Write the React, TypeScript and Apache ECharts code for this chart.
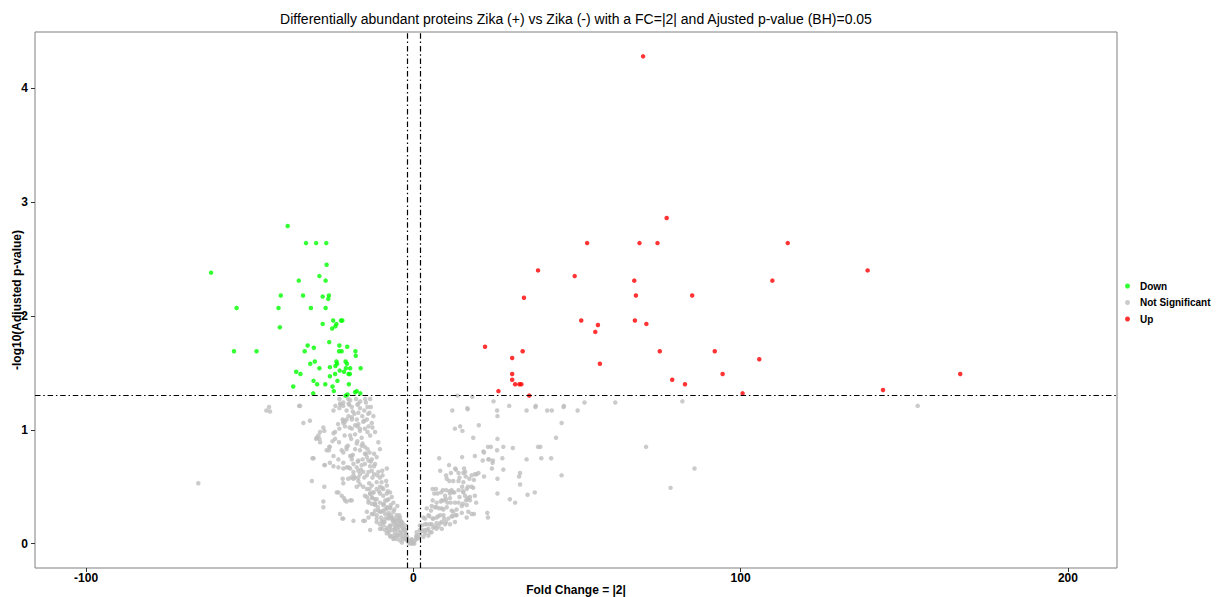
import React, { useEffect, useRef } from "react";
import * as echarts from "echarts";

const titleText =
  "Differentially abundant proteins Zika (+) vs Zika (-) with a FC=|2| and Ajusted p-value (BH)=0.05";
const xName = "Fold Change = |2|";
const yName = "-log10(Adjusted p-value)";
const xTicks = [-100, 0, 100, 200];
const yTicks = [0, 1, 2, 3, 4];
const xRange = [-115.6, 215];
const yRange = [-0.214, 4.494];
const fcCutoffs = [-2, 2];
const pCutoff = 1.30103;
const seriesNames = ["Down", "Not Significant", "Up"];

// [fold change, -log10(adjusted p)]
const upPoints = [
  [70.2, 4.28], [77.4, 2.86], [53.1, 2.64], [69.1, 2.64], [74.6, 2.64], [38.1, 2.4], [49.3, 2.35],
  [67.5, 2.31], [33.8, 2.16], [68.0, 2.18], [85.2, 2.18], [51.3, 1.96], [56.4, 1.92], [55.6, 1.86],
  [67.7, 1.96], [71.2, 1.93], [21.9, 1.73], [33.4, 1.69], [75.3, 1.69], [92.1, 1.69], [30.2, 1.63],
  [105.7, 1.62], [57.0, 1.58], [30.2, 1.49], [94.5, 1.49], [30.2, 1.44], [79.1, 1.44], [31.1, 1.4],
  [32.4, 1.4], [33.0, 1.4], [83.0, 1.4], [26.0, 1.34], [35.4, 1.3], [100.6, 1.32], [114.4, 2.64],
  [109.7, 2.31], [138.8, 2.4], [143.5, 1.35], [167.1, 1.49],
];

const downPoints = [
  [-38.4, 2.79], [-32.8, 2.64], [-29.7, 2.64], [-26.6, 2.64], [-61.8, 2.38], [-26.5, 2.45],
  [-35.0, 2.31], [-28.7, 2.35], [-26.8, 2.31], [-40.5, 2.18], [-33.7, 2.18], [-27.7, 2.17],
  [-25.8, 2.18], [-26.0, 2.15], [-54.0, 2.07], [-41.2, 2.07], [-31.3, 2.07], [-26.8, 2.07],
  [-40.8, 1.9], [-24.5, 1.96], [-22.1, 1.96], [-21.7, 1.96], [-23.5, 1.93], [-23.8, 1.91],
  [-27.7, 1.93], [-24.8, 1.89], [-54.8, 1.69], [-47.9, 1.69], [-25.7, 1.77], [-32.3, 1.74],
  [-30.4, 1.72], [-33.2, 1.69], [-22.6, 1.74], [-20.2, 1.73], [-22.7, 1.69], [-21.9, 1.69],
  [-17.7, 1.69], [-17.6, 1.65], [-23.5, 1.6], [-23.3, 1.58], [-20.7, 1.6], [-20.3, 1.58],
  [-30.1, 1.6], [-31.5, 1.58], [-25.5, 1.55], [-23.8, 1.56], [-28.7, 1.54], [-22.5, 1.52],
  [-21.2, 1.51], [-19.8, 1.49], [-19.4, 1.49], [-20.6, 1.54], [-19.3, 1.54], [-16.1, 1.54],
  [-35.8, 1.51], [-34.5, 1.49], [-23.9, 1.49], [-25.5, 1.47], [-30.5, 1.43], [-29.4, 1.4],
  [-23.2, 1.43], [-26.9, 1.4], [-36.7, 1.38], [-24.7, 1.38], [-24.3, 1.34], [-19.7, 1.4],
  [-17.8, 1.33], [-17.3, 1.34], [-16.2, 1.32], [-30.6, 1.32], [-20.7, 1.3], [-20.1, 1.31],
];

const greyLeftOutliers = [
  [-65.7, 0.53], [-44.1, 1.2], [-44.9, 1.17], [-43.8, 1.16], [-34.9, 1.21], [-34.6, 1.21],
];

const greyLeftBand1 = [
  [-24.4, 1.17], [-22.6, 1.27], [-22.2, 1.22], [-22.6, 1.19], [-23.8, 1.21], [-21.4, 1.24],
  [-19.9, 1.27], [-19.6, 1.22], [-18.5, 1.16], [-20.4, 1.17], [-17.5, 1.27], [-17.1, 1.22],
  [-16.2, 1.25], [-14.7, 1.27], [-14.5, 1.24], [-15.0, 1.17], [-14.0, 1.2], [-13.0, 1.2],
  [-13.4, 1.15], [-13.2, 1.27], [-16.3, 1.19], [-22.4, 1.23], [-21.4, 1.21], [-19.8, 1.23],
  [-19.3, 1.26], [-18.8, 1.2], [-16.8, 1.23], [-19.8, 1.12], [-16.8, 1.15], [-18.0, 1.14],
  [-13.8, 1.14],
];

const greyLeftBand2 = [
  [-33.6, 1.06], [-31.6, 1.08], [-29.0, 0.95], [-28.5, 0.98], [-27.5, 1.02], [-24.7, 0.9],
  [-23.9, 0.98], [-22.6, 1.01], [-21.6, 1.09], [-21.4, 1.06], [-20.9, 1.03], [-20.4, 1.09],
  [-18.8, 1.11], [-17.3, 1.09], [-17.1, 1.03], [-15.6, 1.12], [-14.2, 1.09], [-13.7, 1.03],
  [-12.7, 1.06], [-14.8, 1.01], [-16.3, 0.99], [-18.8, 1.01], [-17.8, 0.96], [-19.3, 0.95],
  [-12.2, 1.12], [-14.0, 0.98], [-13.2, 0.95], [-11.7, 0.98], [-15.8, 0.93], [-17.1, 0.9],
  [-29.5, 0.93], [-27.2, 0.99], [-24.4, 0.97], [-23.9, 0.92], [-21.4, 1.08], [-20.9, 1.07],
  [-18.8, 1.09], [-17.8, 1.04], [-16.3, 1.01], [-15.3, 1.07], [-16.8, 1.05], [-19.5, 1.02],
  [-21.0, 0.95], [-23.0, 1.05], [-15.0, 1.08], [-12.5, 1.02],
];

const greyLeftBand3 = [
  [-29.7, 0.92], [-28.7, 0.92], [-28.5, 0.89], [-25.5, 0.85], [-25.8, 0.82], [-24.4, 0.77],
  [-22.7, 0.89], [-21.9, 0.82], [-21.4, 0.8], [-22.9, 0.74], [-20.4, 0.83], [-19.3, 0.77],
  [-18.8, 0.74], [-17.8, 0.83], [-16.3, 0.82], [-15.8, 0.86], [-14.8, 0.85], [-14.0, 0.83],
  [-13.4, 0.8], [-14.2, 0.76], [-15.5, 0.74], [-16.8, 0.73], [-18.3, 0.7], [-21.4, 0.71],
  [-22.9, 0.67], [-20.4, 0.67], [-19.3, 0.66], [-17.3, 0.67], [-15.8, 0.69], [-14.8, 0.7],
  [-13.7, 0.73], [-12.7, 0.74], [-12.0, 0.79], [-11.2, 0.76], [-11.7, 0.7], [-13.2, 0.68],
  [-10.7, 0.89], [-10.2, 0.83], [-30.8, 0.75], [-27.2, 0.69], [-25.5, 0.71], [-24.4, 0.68],
  [-8.1, 0.66], [-30.5, 0.75], [-26.5, 0.82], [-25.7, 0.85], [-27.0, 0.69], [-20.4, 0.85],
  [-18.8, 0.77], [-17.3, 0.88], [-14.8, 0.79], [-21.4, 0.66], [-19.8, 0.67], [-18.3, 0.63],
  [-16.8, 0.64], [-16.0, 0.65], [-17.0, 0.72], [-18.5, 0.78], [-20.0, 0.86], [-19.0, 0.92],
  [-15.5, 0.88], [-14.5, 0.79], [-13.0, 0.72], [-12.0, 0.68], [-9.5, 0.64],
];

const greyLeftBand4 = [
  [-31.0, 0.55], [-27.2, 0.5], [-21.6, 0.57], [-21.4, 0.53], [-19.9, 0.57], [-19.0, 0.58],
  [-17.8, 0.58], [-16.8, 0.55], [-18.3, 0.6], [-16.3, 0.61], [-15.3, 0.63], [-14.2, 0.6],
  [-13.7, 0.63], [-12.7, 0.64], [-12.0, 0.61], [-10.7, 0.63], [-10.2, 0.58], [-9.4, 0.6],
  [-8.3, 0.55], [-9.7, 0.54], [-11.2, 0.54], [-12.7, 0.51], [-13.4, 0.48], [-12.2, 0.45],
  [-13.2, 0.44], [-11.2, 0.48], [-10.2, 0.5], [-9.2, 0.48], [-8.1, 0.51], [-17.3, 0.5],
  [-22.9, 0.45], [-21.9, 0.42], [-21.2, 0.4], [-19.3, 0.38], [-27.5, 0.37], [-12.7, 0.41],
  [-11.7, 0.39], [-10.2, 0.44], [-9.2, 0.42], [-8.1, 0.44], [-7.1, 0.45], [-14.2, 0.41],
  [-13.7, 0.36], [-11.7, 0.35], [-10.2, 0.36], [-8.6, 0.38], [-7.6, 0.39], [-6.6, 0.41],
  [-6.1, 0.36], [-23.4, 0.45], [-20.9, 0.38], [-20.4, 0.37], [-18.8, 0.38], [-18.3, 0.57],
  [-16.8, 0.58], [-16.3, 0.52], [-15.3, 0.5], [-14.2, 0.48], [-13.2, 0.44], [-12.2, 0.45],
  [-11.2, 0.39], [-14.8, 0.42], [-13.7, 0.38], [-12.7, 0.35], [-11.7, 0.34], [-13.5, 0.53],
  [-12.5, 0.58], [-11.0, 0.6], [-15.0, 0.58], [-10.5, 0.46], [-9.5, 0.49], [-7.8, 0.46],
  [-12.5, 0.4], [-11.8, 0.35],
];

const greyLeftBand5 = [
  [-27.5, 0.32], [-22.4, 0.26], [-21.4, 0.22], [-18.3, 0.2], [-14.8, 0.2], [-13.7, 0.23],
  [-12.7, 0.26], [-11.7, 0.29], [-11.2, 0.25], [-10.2, 0.28], [-9.2, 0.29], [-8.1, 0.31],
  [-7.1, 0.32], [-6.1, 0.28], [-5.1, 0.25], [-4.6, 0.22], [-5.6, 0.2], [-6.6, 0.22],
  [-7.6, 0.23], [-8.6, 0.22], [-9.7, 0.2], [-10.2, 0.17], [-11.2, 0.19], [-9.2, 0.16],
  [-8.1, 0.14], [-7.1, 0.16], [-6.1, 0.17], [-5.1, 0.16], [-4.1, 0.19], [-3.6, 0.15],
  [-4.6, 0.12], [-5.6, 0.1], [-6.6, 0.12], [-7.6, 0.1], [-6.1, 0.07], [-4.6, 0.07],
  [-3.6, 0.09], [-3.0, 0.12], [-2.5, 0.16], [-8.1, 0.09], [-9.7, 0.13], [-5.1, 0.04],
  [-4.1, 0.03], [-3.0, 0.04], [-2.2, 0.06], [-1.5, 0.01], [-1.0, 0.0], [-0.5, 0.01],
  [-2.0, 0.03], [-3.5, 0.01], [-21.7, 0.22], [-13.2, 0.12], [-15.3, 0.2], [-14.2, 0.28],
  [-12.2, 0.26], [-11.2, 0.22], [-9.2, 0.19], [-7.6, 0.22], [-6.1, 0.2], [-10.2, 0.13],
  [-8.6, 0.12], [-7.1, 0.15], [-5.6, 0.13], [-4.6, 0.16], [-3.6, 0.17], [-2.5, 0.12],
  [-5.1, 0.07], [-3.6, 0.06], [-2.5, 0.04], [-1.5, 0.03], [-7.1, 0.07], [-6.1, 0.04],
  [-9.2, 0.34], [-8.1, 0.32], [-7.1, 0.31], [-4.1, 0.23], [-10.7, 0.29], [-9.7, 0.28],
  [-8.6, 0.26], [-7.6, 0.25], [-6.6, 0.23], [-5.6, 0.22], [-4.6, 0.2], [-3.6, 0.19],
  [-8.5, 0.3], [-7.5, 0.27], [-6.8, 0.25], [-5.8, 0.3], [-4.9, 0.33], [-6.3, 0.2],
  [-5.3, 0.18], [-4.3, 0.25], [-3.8, 0.2], [-3.3, 0.18], [-2.8, 0.13], [-3.9, 0.1],
  [-4.8, 0.08], [-5.9, 0.05], [-7.0, 0.06], [-2.4, 0.09], [-1.9, 0.06], [-3.1, 0.06],
  [-4.4, 0.15], [-5.6, 0.14], [-7.4, 0.12], [-8.8, 0.19], [-9.9, 0.23], [-10.8, 0.32],
  [-9.0, 0.35], [-8.0, 0.38], [-6.9, 0.34], [-3.2, 0.13], [-2.2, 0.09],
];

const greyCenter = [
  [0.0, 0.01], [0.5, 0.03], [1.0, 0.04], [-0.5, 0.03], [1.5, 0.05], [-0.5, 0.04], [1.0, 0.06],
  [0.3, 0.0], [-0.3, 0.0],
];

const greyRightLow = [
  [6.6, 0.32], [7.9, 0.31], [9.2, 0.3], [10.2, 0.32], [4.1, 0.31], [5.4, 0.29], [12.2, 0.28],
  [13.0, 0.25], [11.7, 0.24], [14.8, 0.27], [16.8, 0.28], [18.5, 0.26], [22.6, 0.27], [22.8, 0.23],
  [3.6, 0.22], [4.9, 0.24], [5.9, 0.22], [7.1, 0.23], [8.2, 0.25], [9.4, 0.22], [10.7, 0.22],
  [2.6, 0.16], [4.1, 0.17], [5.6, 0.17], [7.1, 0.18], [8.7, 0.19], [10.0, 0.19], [11.2, 0.17],
  [2.0, 0.12], [3.3, 0.12], [4.6, 0.13], [6.1, 0.14], [7.7, 0.15], [1.0, 0.07], [2.0, 0.08],
  [3.6, 0.09], [5.1, 0.1], [5.9, 0.48], [6.4, 0.44], [7.4, 0.44], [8.5, 0.45], [9.0, 0.47],
  [9.7, 0.42], [11.2, 0.44], [12.2, 0.45], [13.8, 0.47], [15.3, 0.45], [15.8, 0.42], [16.8, 0.4],
  [17.3, 0.38], [19.2, 0.36], [25.7, 0.44], [29.5, 0.39], [31.1, 0.36], [34.9, 0.43], [37.1, 0.45],
  [5.9, 0.38], [7.1, 0.36], [8.4, 0.37], [9.4, 0.38], [10.4, 0.36], [11.4, 0.36], [12.7, 0.36],
  [13.8, 0.36], [15.1, 0.35], [16.1, 0.38], [6.9, 0.48], [10.0, 0.47], [11.0, 0.46], [11.7, 0.47],
  [12.5, 0.45], [15.1, 0.46], [16.3, 0.48], [17.8, 0.5], [8.7, 0.38], [10.0, 0.39], [11.2, 0.4],
  [14.1, 0.41], [16.5, 0.39], [17.3, 0.41], [18.8, 0.42], [5.6, 0.33], [7.1, 0.32], [8.7, 0.31],
  [11.7, 0.29], [13.2, 0.3], [14.8, 0.33], [16.3, 0.34], [17.8, 0.26], [3.1, 0.23], [4.6, 0.25],
  [6.1, 0.22], [7.6, 0.24], [9.2, 0.25], [12.0, 0.24], [13.2, 0.25], [16.3, 0.23], [2.0, 0.16],
  [3.6, 0.17], [5.1, 0.17], [6.6, 0.15], [8.2, 0.18], [9.7, 0.17], [12.7, 0.19], [1.0, 0.1],
  [2.6, 0.11], [4.1, 0.12], [5.6, 0.1], [7.1, 0.13], [8.7, 0.13], [1.0, 0.06], [3.1, 0.06],
  [4.6, 0.07],
];

const greyRightMid = [
  [13.5, 1.3], [18.0, 1.29], [24.5, 1.25], [29.3, 1.21], [11.9, 1.17], [16.6, 1.18], [25.6, 1.17],
  [25.7, 1.12], [34.6, 1.17], [37.3, 1.2], [40.9, 1.17], [42.3, 1.17], [45.9, 1.2], [50.2, 1.17],
  [45.3, 1.06], [20.0, 1.04], [12.7, 1.01], [14.3, 1.03], [15.0, 0.99], [18.3, 0.93], [25.7, 0.92],
  [43.6, 0.93], [22.8, 0.85], [23.7, 0.85], [21.4, 0.81], [25.6, 0.82], [27.5, 0.85], [30.4, 0.84],
  [38.1, 0.85], [38.8, 0.85], [7.9, 0.75], [14.9, 0.76], [18.8, 0.77], [21.2, 0.73], [22.9, 0.74],
  [24.3, 0.73], [27.2, 0.75], [34.6, 0.74], [39.1, 0.75], [42.1, 0.75], [8.2, 0.64], [10.9, 0.69],
  [12.8, 0.66], [15.5, 0.66], [24.0, 0.66], [27.5, 0.65], [10.0, 0.6], [11.5, 0.62], [13.8, 0.62],
  [14.1, 0.58], [15.3, 0.62], [16.0, 0.59], [17.8, 0.6], [19.3, 0.61], [21.6, 0.59], [25.7, 0.57],
  [32.3, 0.59], [32.6, 0.62], [45.3, 0.6], [11.0, 0.55], [12.2, 0.55], [15.3, 0.54], [14.9, 0.5],
  [16.7, 0.5], [18.3, 0.49], [32.6, 0.52], [21.6, 0.8], [23.1, 0.74], [24.2, 0.71], [13.0, 0.65],
  [15.8, 0.63], [13.8, 0.55], [10.2, 0.57], [17.1, 0.57], [18.5, 0.56], [18.8, 0.61], [19.9, 0.62],
];

const greyRightFar = [
  [46.0, 1.21], [52.3, 1.24], [61.7, 1.24], [82.2, 1.25], [154.1, 1.21], [71.1, 0.85], [85.9, 0.66],
  [78.6, 0.49], [37.4, 1.21], [16.5, 1.19],
];

const greyPoints = [
  ...greyLeftOutliers,
  ...greyLeftBand1,
  ...greyLeftBand2,
  ...greyLeftBand3,
  ...greyLeftBand4,
  ...greyLeftBand5,
  ...greyCenter,
  ...greyRightLow,
  ...greyRightMid,
  ...greyRightFar,
];

const FONT = "'Liberation Sans', Arial, Helvetica, sans-serif";

export default function App() {
  const ref = useRef<HTMLDivElement>(null);

  useEffect(() => {
    if (!ref.current) return;
    const chart = echarts.init(ref.current, null, { renderer: "svg" });
    const dotDash = {
      color: "#000",
      width: 1.2,
      type: [5.5, 2.8, 1.5, 2.8],
    };
    chart.setOption({
      animation: false,
      backgroundColor: "#ffffff",
      textStyle: { fontFamily: FONT },
      title: {
        text: titleText,
        left: 576,
        top: 12,
        padding: 0,
        textAlign: "center",
        textStyle: { fontSize: 14, fontWeight: "normal", color: "#000", fontFamily: FONT },
      },
      legend: {
        data: seriesNames,
        orient: "vertical",
        left: 1125,
        top: 281,
        icon: "circle",
        itemWidth: 5,
        itemHeight: 5,
        itemGap: 6.5,
        padding: 0,
        textStyle: { fontSize: 10, fontWeight: "bold", color: "#000", fontFamily: FONT, padding: [0, 0, 0, 5] },
      },
      grid: {
        left: 35,
        top: 32,
        width: 1082,
        height: 536,
        containLabel: false,
        outerBoundsMode: "none",
        show: true,
        borderColor: "#808080",
        borderWidth: 1,
        backgroundColor: "#fff",
      },
      xAxis: {
        type: "value",
        position: "bottom",
        min: xRange[0],
        max: xRange[1],
        name: xName,
        nameLocation: "middle",
        nameGap: 16,
        nameMoveOverlap: false,
        nameTextStyle: { fontSize: 12, fontWeight: "bold", color: "#000", fontFamily: FONT },
        axisLine: { show: false, onZero: false },
        splitLine: { show: false },
        axisTick: { show: true, customValues: xTicks, length: 4, lineStyle: { color: "#333" } },
        axisLabel: {
          customValues: xTicks,
          fontSize: 12,
          fontWeight: "bold",
          color: "#000",
          margin: 4,
          fontFamily: FONT,
        },
      },
      yAxis: {
        type: "value",
        position: "left",
        min: yRange[0],
        max: yRange[1],
        name: yName,
        nameLocation: "middle",
        nameGap: 12,
        nameMoveOverlap: false,
        nameTextStyle: { fontSize: 12, fontWeight: "bold", color: "#000", fontFamily: FONT },
        axisLine: { show: false, onZero: false },
        splitLine: { show: false },
        axisTick: { show: true, customValues: yTicks, length: 4, lineStyle: { color: "#333" } },
        axisLabel: {
          customValues: yTicks,
          fontSize: 12,
          fontWeight: "bold",
          color: "#000",
          margin: 7,
          fontFamily: FONT,
        },
      },
      series: [
        {
          name: seriesNames[1],
          type: "scatter",
          data: greyPoints,
          symbol: "circle",
          symbolSize: 4.5,
          itemStyle: { color: "#BEBEBE" },
          silent: true,
        },
        {
          name: seriesNames[0],
          type: "scatter",
          data: downPoints,
          symbol: "circle",
          symbolSize: 4.5,
          itemStyle: { color: "#00FF00" },
          silent: true,
        },
        {
          name: seriesNames[2],
          type: "scatter",
          data: upPoints,
          symbol: "circle",
          symbolSize: 4.5,
          itemStyle: { color: "#FF0000" },
          silent: true,
          markLine: {
            silent: true,
            symbol: "none",
            label: { show: false },
            lineStyle: dotDash,
            data: [
              { xAxis: fcCutoffs[0] },
              { xAxis: fcCutoffs[1] },
              { yAxis: pCutoff },
            ],
          },
        },
      ],
    });
    return () => chart.dispose();
  }, []);

  return (
    <div
      ref={ref}
      style={{ position: "fixed", left: 0, top: 0, width: 1223, height: 597, background: "#fff" }}
    />
  );
}
